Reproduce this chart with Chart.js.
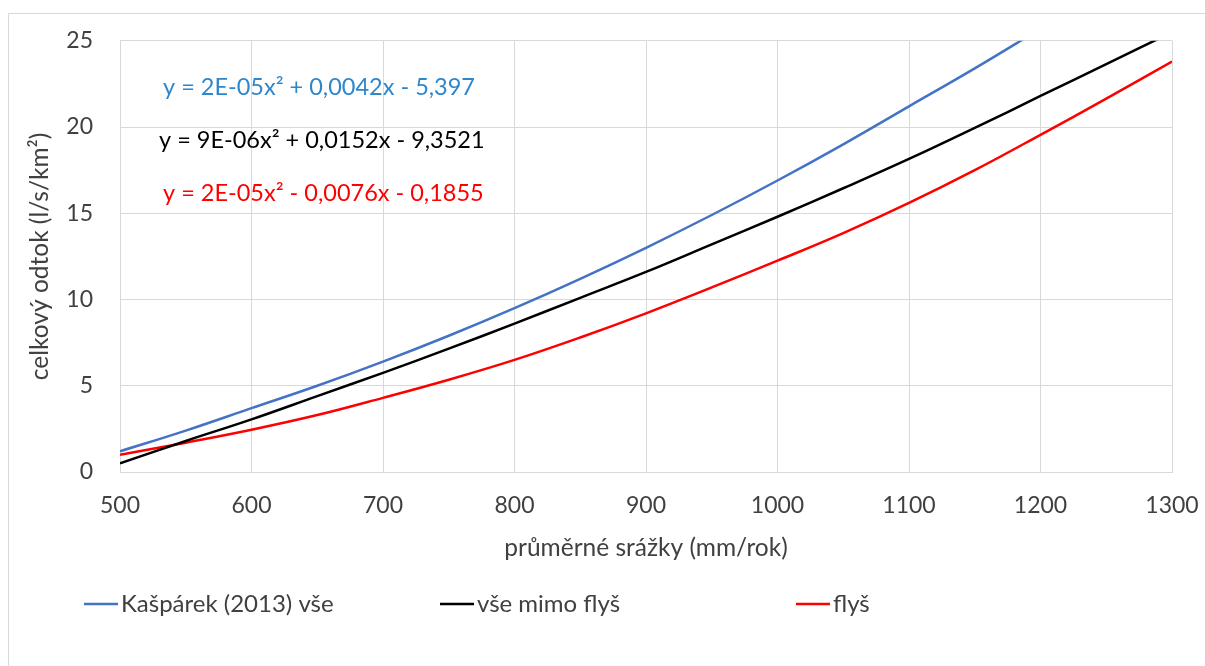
<!DOCTYPE html>
<html>
<head>
<meta charset="utf-8">
<script src="https://cdn.jsdelivr.net/npm/chart.js@4"></script>
<style>
html, body { margin: 0; padding: 0; background: #fff; overflow: hidden; }
#wrap { position: relative; width: 1205px; height: 666px; }
#frame { position: absolute; left: 8px; top: 13px; width: 1300px; height: 700px; border: 1px solid #d9d9d9; }
canvas { position: absolute; left: 0; top: 0; }
</style>
</head>
<body>
<div id="wrap">
  <div id="frame"></div>
  <canvas id="runoffChart" width="1205" height="666"></canvas>
</div>
<script>
// precipitation (mm/rok)
var srazky = [500, 550, 600, 650, 700, 750, 800, 850, 900, 950, 1000, 1050, 1100, 1150, 1200, 1250, 1300];

// runoff values (l/s/km2)
var kasparekVse = [1.2, 2.4, 3.7, 5.0, 6.4, 7.9, 9.5, 11.2, 13.0, 14.9, 16.9, 19.0, 21.2, 23.4, 25.7];
var vseMimoFlys = [0.5, 1.8, 3.05, 4.4, 5.75, 7.15, 8.6, 10.1, 11.6, 13.2, 14.8, 16.45, 18.15, 19.95, 21.8, 23.65, 25.5];
var flys = [1.0, 1.7, 2.45, 3.3, 4.3, 5.35, 6.5, 7.8, 9.2, 10.7, 12.25, 13.85, 15.6, 17.5, 19.55, 21.65, 23.8];

var seriesNames = ['Kašpárek (2013) vše', 'vše mimo flyš', 'flyš'];
var seriesColors = ['#4472C4', '#000000', '#FF0000'];

var equations = [
    'y = 2E-05x² + 0,0042x - 5,397',
    'y = 9E-06x² + 0,0152x - 9,3521',
    'y = 2E-05x² - 0,0076x - 0,1855'
];
var equationColors = ['#2E86CB', '#000000', '#FF0000'];

var xTicks = [500, 600, 700, 800, 900, 1000, 1100, 1200, 1300];
var yTicks = [0, 5, 10, 15, 20, 25];

var fontFamily = "Lato, 'Open Sans', sans-serif";
var textColor = '#404040';
var gridColor = '#d9d9d9';

function toPoints(values) {
    var pts = [];
    for (var i = 0; i < values.length; i++) {
        pts.push({ x: srazky[i], y: values[i] });
    }
    return pts;
}

// equations and legend drawn on top of the chart
var extrasPlugin = {
    id: 'extras',
    afterDraw: function (chart) {
        var ctx = chart.ctx;
        ctx.save();
        ctx.textBaseline = 'middle';
        ctx.textAlign = 'left';

        ctx.font = '23.5px ' + fontFamily;
        var eqPos = [[163, 87], [159, 140], [163, 193]];
        for (var i = 0; i < equations.length; i++) {
            ctx.fillStyle = equationColors[i];
            ctx.fillText(equations[i], eqPos[i][0], eqPos[i][1]);
        }

        ctx.font = '24px ' + fontFamily;
        var legX = [84, 440, 796];
        var legY = 604;
        for (var j = 0; j < seriesNames.length; j++) {
            ctx.strokeStyle = seriesColors[j];
            ctx.lineWidth = 2.5;
            ctx.beginPath();
            ctx.moveTo(legX[j], legY);
            ctx.lineTo(legX[j] + 34, legY);
            ctx.stroke();
            ctx.fillStyle = textColor;
            ctx.fillText(seriesNames[j], legX[j] + 37, legY);
        }
        ctx.restore();
    }
};

var ctx = document.getElementById('runoffChart').getContext('2d');

var runoffChart = new Chart(ctx, {
    type: 'line',
    data: {
        datasets: [
            { label: seriesNames[0], data: toPoints(kasparekVse), borderColor: seriesColors[0], borderWidth: 2.5 },
            { label: seriesNames[1], data: toPoints(vseMimoFlys), borderColor: seriesColors[1], borderWidth: 2.5 },
            { label: seriesNames[2], data: toPoints(flys), borderColor: seriesColors[2], borderWidth: 2.5 }
        ]
    },
    options: {
        responsive: false,
        animation: false,
        elements: { point: { radius: 0 }, line: { tension: 0.4 } },
        layout: { padding: { left: 0, right: 33, top: 40, bottom: 100 } },
        plugins: {
            legend: { display: false },
            tooltip: { enabled: false }
        },
        scales: {
            x: {
                type: 'linear',
                min: 500,
                max: 1300,
                afterBuildTicks: function (scale) {
                    scale.ticks = xTicks.map(function (v) { return { value: v }; });
                },
                afterFit: function (scale) {
                    scale.height = 94;
                    scale.paddingLeft = 0;
                    scale.paddingRight = 0;
                },
                ticks: {
                    padding: 20,
                    color: textColor,
                    font: { family: fontFamily, size: 23 },
                    maxRotation: 0,
                    callback: function (v) { return String(v); }
                },
                grid: { color: gridColor, drawTicks: false },
                border: { color: gridColor },
                title: {
                    display: true,
                    text: 'průměrné srážky (mm/rok)',
                    color: textColor,
                    font: { family: fontFamily, size: 24.5 },
                    padding: { top: 0, bottom: 3 }
                }
            },
            y: {
                min: 0,
                max: 25,
                afterBuildTicks: function (scale) {
                    scale.ticks = yTicks.map(function (v) { return { value: v }; });
                },
                afterFit: function (scale) { scale.width = 120; },
                ticks: {
                    padding: 27,
                    color: textColor,
                    font: { family: fontFamily, size: 23 },
                    callback: function (v) { return String(v); }
                },
                grid: { color: gridColor, drawTicks: false },
                border: { color: gridColor },
                title: {
                    display: true,
                    text: 'celkový odtok (l/s/km²)',
                    color: textColor,
                    font: { family: fontFamily, size: 24.5 },
                    padding: { top: 25, bottom: 0 }
                }
            }
        }
    },
    plugins: [extrasPlugin]
});
</script>
</body>
</html>
